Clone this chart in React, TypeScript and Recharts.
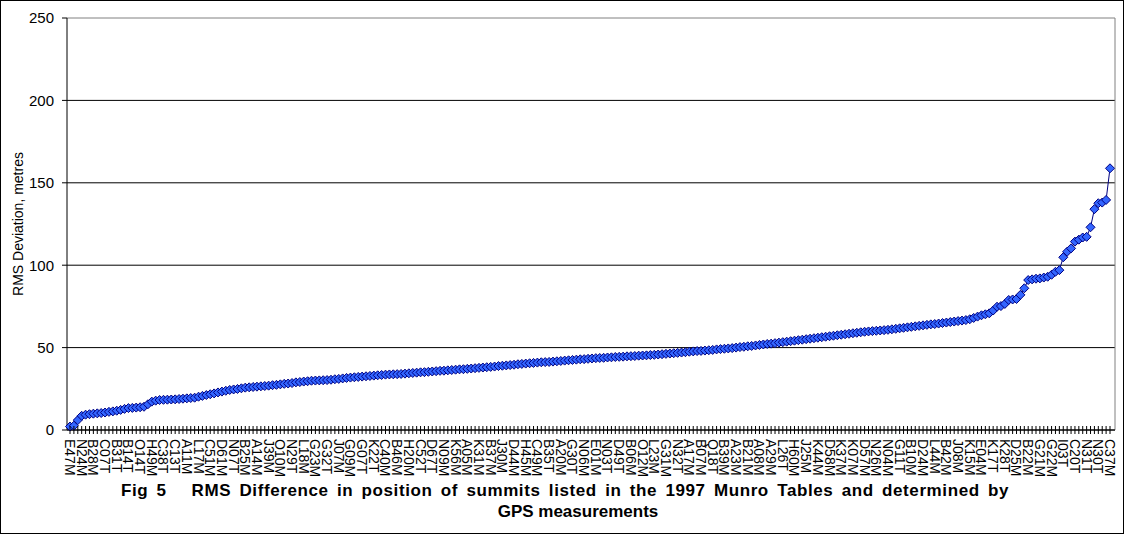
import { LineChart, Line, XAxis, YAxis, CartesianGrid } from "recharts";

const FONT = '"Liberation Sans", Arial, sans-serif';

// summit codes, one label for every third point
const SUMMITS = [
  "E47M", "N24M", "B28M", "C07T", "B31T", "B14T", "O14T", "H49M", "C38T", "C13T",
  "A11M", "L17M", "C51M", "D61M", "N07T", "B25M", "A14M", "J39M", "O10M", "N29T",
  "L18M", "G23M", "G32T", "J07M", "G09M", "G07T", "K22T", "C40M", "B46M", "H20M",
  "C52T", "D67T", "N09M", "K56M", "A05M", "K31M", "B37M", "J30M", "D44M", "H45M",
  "C49M", "B35T", "A20M", "G30T", "N06M", "E01M", "N03T", "D49T", "B06M", "O12M",
  "L23M", "G31M", "N32T", "A17M", "B07M", "Q18T", "B39M", "A23M", "B21M", "A08M",
  "A29M", "L26T", "H60M", "J25M", "K44M", "D58M", "K37M", "K07M", "D57M", "N26M",
  "N04M", "G11T", "B10M", "D24M", "L44M", "B42M", "J08M", "K15M", "E04M", "K17T",
  "K28T", "D25M", "B22M", "G21M", "G22M", "I03T", "C20T", "N31T", "N30T", "C37M",
];

// RMS deviation (metres), sorted ascending
const RMS = [
  2.1, 2.6, 6.0, 8.6, 9.3, 9.6, 9.9, 10.1, 10.3, 10.6,
  11.0, 11.3, 11.7, 12.2, 12.8, 13.3, 13.4, 13.6, 13.8, 14.1,
  15.6, 17.2, 17.8, 18.2, 18.3, 18.4, 18.5, 18.6, 18.8, 19.0,
  19.2, 19.4, 19.6, 20.2, 20.7, 21.2, 21.7, 22.2, 22.8, 23.3,
  23.8, 24.3, 24.6, 24.9, 25.3, 25.7, 25.9, 26.1, 26.3, 26.5,
  26.7, 26.9, 27.2, 27.4, 27.7, 28.0, 28.2, 28.5, 28.9, 29.1,
  29.4, 29.6, 29.9, 30.0, 30.1, 30.2, 30.3, 30.5, 30.8, 31.0,
  31.3, 31.6, 31.8, 32.0, 32.2, 32.4, 32.6, 32.8, 33.0, 33.2,
  33.4, 33.6, 33.7, 33.8, 33.9, 34.0, 34.2, 34.4, 34.6, 34.8,
  35.0, 35.1, 35.3, 35.5, 35.7, 35.9, 36.0, 36.2, 36.4, 36.6,
  36.8, 36.9, 37.1, 37.3, 37.5, 37.7, 37.9, 38.1, 38.3, 38.5,
  38.8, 39.0, 39.2, 39.4, 39.6, 39.9, 40.1, 40.3, 40.5, 40.7,
  40.9, 41.1, 41.2, 41.3, 41.5, 41.7, 41.9, 42.1, 42.3, 42.5,
  42.7, 42.9, 43.0, 43.2, 43.4, 43.6, 43.7, 43.8, 44.0, 44.1,
  44.3, 44.4, 44.5, 44.7, 44.8, 44.9, 45.1, 45.2, 45.3, 45.5,
  45.6, 45.8, 46.0, 46.2, 46.4, 46.6, 46.8, 47.0, 47.2, 47.5,
  47.7, 47.9, 48.0, 48.2, 48.4, 48.6, 48.9, 49.1, 49.3, 49.5,
  49.7, 50.0, 50.3, 50.5, 50.8, 51.0, 51.3, 51.6, 51.9, 52.2,
  52.4, 52.7, 53.0, 53.3, 53.6, 53.9, 54.2, 54.5, 54.8, 55.1,
  55.4, 55.7, 56.0, 56.3, 56.6, 56.9, 57.2, 57.5, 57.8, 58.1,
  58.4, 58.7, 59.0, 59.3, 59.6, 59.8, 60.0, 60.2, 60.4, 60.6,
  60.8, 61.1, 61.4, 61.7, 62.0, 62.3, 62.6, 62.9, 63.2, 63.5,
  63.8, 64.1, 64.3, 64.6, 64.9, 65.2, 65.5, 65.8, 66.1, 66.4,
  66.7, 67.2, 68.0, 68.8, 69.6, 70.2, 70.8, 72.5, 74.8, 75.2,
  76.5, 78.9, 79.2, 79.5, 82.0, 86.0, 91.0, 91.4, 91.8, 92.0,
  92.5, 93.0, 94.2, 96.0, 97.0, 104.8, 108.2, 110.2, 114.3, 115.5,
  116.8, 117.2, 123.0, 134.0, 137.6, 138.0, 139.6, 158.8,
];

const Y_TICKS = [0, 50, 100, 150, 200, 250];
const Y_LABEL = "RMS Deviation, metres";
const TITLE_LINES = [
  "Fig 5   RMS Difference in position of summits listed in the 1997 Munro Tables and determined by",
  "GPS measurements",
];

const data = RMS.map((v, i) => ({ idx: i, rms: v }));

// cross ticks on every category, rotated code on every third
const XTick = (props: any) => {
  const { x, y, payload } = props;
  const i = Number(payload.value);
  const label = i % 3 === 0 ? SUMMITS[i / 3] : null;
  return (
    <g>
      <line x1={x} x2={x} y1={y - 4} y2={y + 4} stroke="#000" />
      {label && (
        <text
          x={x}
          y={y + 9}
          dy="0.36em"
          transform={`rotate(90, ${x}, ${y + 9})`}
          textAnchor="start"
          fontSize={14}
          fontFamily={FONT}
          fill="#000"
        >
          {label}
        </text>
      )}
    </g>
  );
};

const Diamond = (props: any) => {
  const { cx, cy, index } = props;
  if (cx == null || cy == null) return <g key={index} />;
  const r = 4.5;
  return (
    <polygon
      key={index}
      points={`${cx},${cy - r} ${cx + r},${cy} ${cx},${cy + r} ${cx - r},${cy}`}
      fill="#3366FF"
      stroke="#000080"
      strokeWidth={1}
    />
  );
};

const renderYLabel = (props: any) => {
  const vb = props.viewBox || { y: 17, height: 412 };
  const cy = vb.y + vb.height / 2;
  return (
    <text
      x={17}
      y={cy}
      transform={`rotate(-90, 17, ${cy})`}
      textAnchor="middle"
      dominantBaseline="central"
      fontSize={14}
      fontFamily={FONT}
      fill="#000"
    >
      {Y_LABEL}
    </text>
  );
};

const titleStyle = {
  position: "absolute" as const,
  left: 0,
  textAlign: "center" as const,
  fontFamily: FONT,
  fontWeight: "bold" as const,
  fontSize: 17,
  lineHeight: "21px",
  whiteSpace: "pre" as const,
};

export default function App() {
  return (
    <div
      style={{
        position: "absolute",
        left: 0,
        top: 0,
        width: 1124,
        height: 534,
        border: "1px solid #000",
        boxSizing: "border-box",
        background: "#fff",
        overflow: "hidden",
      }}
    >
      <LineChart
        width={1122}
        height={532}
        data={data}
        margin={{ top: 17, right: 8, bottom: 0, left: 0 }}
      >
        <CartesianGrid
          vertical={(p: any) => (
            <line key={p.key ?? p.index} x1={p.x1} y1={p.y1} x2={p.x2} y2={p.y2} stroke="#808080" />
          )}
          verticalCoordinatesGenerator={({ offset }: any) => [offset.left + offset.width]}
          horizontal={(p: any) => (
            <line
              key={p.key ?? p.index}
              x1={p.x1}
              y1={p.y1}
              x2={p.x2}
              y2={p.y2}
              stroke={p.y != null && Math.abs(p.y1 - p.y) < 1 ? "#808080" : "#000"}
            />
          )}
        />
        <XAxis
          dataKey="idx"
          type="category"
          interval={0}
          height={103}
          tickSize={0}
          tickMargin={0}
          tickLine={false}
          axisLine={{ stroke: "#000" }}
          padding={{ left: 3, right: 5 }}
          tick={<XTick />}
        />
        <YAxis
          type="number"
          domain={[0, 250]}
          ticks={Y_TICKS}
          interval={0}
          width={66}
          tickSize={5}
          tickMargin={8}
          axisLine={{ stroke: "#000" }}
          tickLine={{ stroke: "#000" }}
          tick={{ fill: "#000", fontSize: 15, fontFamily: FONT }}
          label={renderYLabel}
        />
        <Line
          type="linear"
          dataKey="rms"
          stroke="#000080"
          strokeWidth={1}
          dot={Diamond}
          activeDot={false}
          isAnimationActive={false}
        />
      </LineChart>
      <div style={{ ...titleStyle, top: 479, width: 1128, letterSpacing: "0.6px", wordSpacing: "3px" }}>
        {TITLE_LINES[0]}
      </div>
      <div style={{ ...titleStyle, top: 500, width: 1154 }}>{TITLE_LINES[1]}</div>
    </div>
  );
}
